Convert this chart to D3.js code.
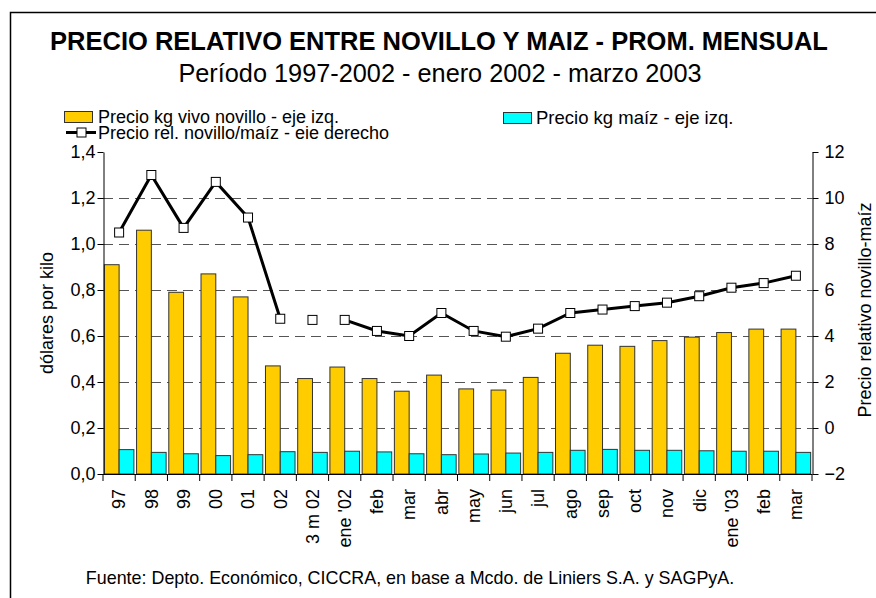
<!DOCTYPE html>
<head>
    <meta charset="utf-8">
    <title>Precio relativo entre novillo y maiz</title>
    <style>
        body { margin: 0; background: #fff; }
        text { font-family: "Liberation Sans", Arial, sans-serif; fill: #000; }
    </style>
</head>
<body>
    <script src="https://d3js.org/d3.v7.min.js"></script>
    <script>

        // categorias del eje x
        var categorias = ["97", "98", "99", "00", "01", "02", "3 m 02", "ene '02", "feb", "mar", "abr",
            "may", "jun", "jul", "ago", "sep", "oct", "nov", "dic", "ene '03", "feb", "mar"];

        // dolares por kilo (eje izq.)
        var novillo = [0.91, 1.06, 0.79, 0.87, 0.77, 0.47, 0.415, 0.465, 0.415, 0.36, 0.43,
            0.37, 0.365, 0.42, 0.525, 0.56, 0.555, 0.58, 0.595, 0.615, 0.63, 0.63];
        var maiz = [0.106, 0.094, 0.088, 0.080, 0.084, 0.097, 0.094, 0.099, 0.096, 0.088, 0.084,
            0.087, 0.091, 0.094, 0.103, 0.107, 0.103, 0.103, 0.101, 0.099, 0.099, 0.094];

        // precio relativo novillo/maiz (eje derecho)
        var relativo = [8.5, 11.0, 8.7, 10.7, 9.15, 4.75, 4.7, 4.7, 4.22, 4.0, 5.0,
            4.22, 3.97, 4.32, 5.0, 5.15, 5.3, 5.45, 5.73, 6.1, 6.3, 6.62];
        // tramos de la linea (los puntos de un mismo tramo van unidos)
        var tramo = [0, 0, 0, 0, 0, 0, 1, 2, 2, 2, 2, 2, 2, 2, 2, 2, 2, 2, 2, 2, 2, 2];

        var ticksIzq = [0, 0.2, 0.4, 0.6, 0.8, 1.0, 1.2, 1.4];
        var ticksDer = [-2, 0, 2, 4, 6, 8, 10, 12];

        var width = 876,
            height = 598;
        var margin = { left: 103, right: 812, top: 152, bottom: 474 };

        var svg = d3.select("body").append("svg")
            .attr("width", width)
            .attr("height", height);

        // marco
        svg.append("rect")
            .attr("x", 10.5).attr("y", 12.5)
            .attr("width", 1000).attr("height", 1000)
            .attr("fill", "none")
            .attr("stroke", "#000")
            .attr("stroke-width", 1.5);

        var x = d3.scaleBand()
            .domain(d3.range(categorias.length))
            .range([margin.left, margin.right]);

        var xSub = d3.scaleBand()
            .domain(["novillo", "maiz"])
            .range([0, x.bandwidth()])
            .paddingInner(0)
            .paddingOuter(0.09);

        var yIzq = d3.scaleLinear().domain([0, 1.4]).range([margin.bottom, margin.top]);
        var yDer = d3.scaleLinear().domain([-2, 12]).range([margin.bottom, margin.top]);

        var coma = function (d) { return d3.format(".1f")(d).replace(".", ","); };

        // lineas de grilla
        svg.append("g")
            .selectAll("line")
            .data(ticksIzq.filter(function (d) { return d > 0 && d < 1.4; }))
            .enter().append("line")
            .attr("x1", margin.left).attr("x2", margin.right)
            .attr("y1", function (d) { return Math.round(yIzq(d)) + 0.5; })
            .attr("y2", function (d) { return Math.round(yIzq(d)) + 0.5; })
            .attr("stroke", "#555")
            .attr("stroke-dasharray", "10,6");

        // barras
        var grupos = svg.append("g")
            .selectAll("g")
            .data(categorias)
            .enter().append("g")
            .attr("transform", function (d, i) { return "translate(" + x(i) + ",0)"; });

        grupos.append("rect")
            .attr("x", xSub("novillo"))
            .attr("width", xSub.bandwidth())
            .attr("y", function (d, i) { return yIzq(novillo[i]); })
            .attr("height", function (d, i) { return yIzq(0) - yIzq(novillo[i]); })
            .attr("fill", "#ffcc00")
            .attr("stroke", "#333")
            .attr("stroke-width", 1);

        grupos.append("rect")
            .attr("x", xSub("maiz"))
            .attr("width", xSub.bandwidth())
            .attr("y", function (d, i) { return yIzq(maiz[i]); })
            .attr("height", function (d, i) { return yIzq(0) - yIzq(maiz[i]); })
            .attr("fill", "#00ffff")
            .attr("stroke", "#333")
            .attr("stroke-width", 1);

        // eje x
        var ejeX = svg.append("g")
            .attr("transform", "translate(0," + margin.bottom + ")")
            .call(d3.axisBottom(x).tickSize(0).tickFormat(function (i) { return categorias[i]; }));
        ejeX.select(".domain").remove();
        ejeX.selectAll("text")
            .attr("transform", "rotate(-90)")
            .attr("x", -15)
            .attr("y", 0)
            .attr("dy", "0.35em")
            .style("text-anchor", "end")
            .style("font-size", "18px")
            .style("font-family", "Liberation Sans, Arial, sans-serif");

        svg.append("g")
            .selectAll("line")
            .data(d3.range(categorias.length + 1))
            .enter().append("line")
            .attr("x1", function (i) { return margin.left + i * x.step(); })
            .attr("x2", function (i) { return margin.left + i * x.step(); })
            .attr("y1", margin.bottom)
            .attr("y2", margin.bottom + 7)
            .attr("stroke", "#000");

        svg.append("line")
            .attr("x1", margin.left).attr("x2", margin.right)
            .attr("y1", margin.bottom + 0.5).attr("y2", margin.bottom + 0.5)
            .attr("stroke", "#000");

        // ejes y
        var ejeIzq = svg.append("g")
            .attr("transform", "translate(" + (margin.left + 0.5) + ",0)")
            .call(d3.axisLeft(yIzq).tickValues(ticksIzq).tickSize(6).tickSizeOuter(0).tickFormat(coma));
        var ejeDer = svg.append("g")
            .attr("transform", "translate(" + (margin.right + 0.5) + ",0)")
            .call(d3.axisRight(yDer).tickValues(ticksDer).tickSize(6).tickSizeOuter(0).tickFormat(d3.format("d")));

        [ejeIzq, ejeDer].forEach(function (e) {
            e.selectAll("text")
                .style("font-size", "18px")
                .style("font-family", "Liberation Sans, Arial, sans-serif")
                .attr("fill", "#000");
            e.select(".domain").attr("stroke", "#000");
            e.selectAll(".tick line").attr("stroke", "#000");
        });
        ejeIzq.selectAll("text").attr("x", -8);
        ejeDer.selectAll("text").attr("x", 12);

        // linea precio relativo
        var linea = d3.line()
            .x(function (d) { return x(d) + x.bandwidth() / 2; })
            .y(function (d) { return yDer(relativo[d]); });

        var tramos = d3.groups(d3.range(relativo.length), function (i) { return tramo[i]; });

        svg.append("g")
            .selectAll("path")
            .data(tramos)
            .enter().append("path")
            .attr("d", function (t) { return linea(t[1]); })
            .attr("fill", "none")
            .attr("stroke", "#000")
            .attr("stroke-width", 3);

        svg.append("g")
            .selectAll("rect")
            .data(relativo)
            .enter().append("rect")
            .attr("x", function (d, i) { return x(i) + x.bandwidth() / 2 - 4.5; })
            .attr("y", function (d) { return yDer(d) - 4.5; })
            .attr("width", 9).attr("height", 9)
            .attr("fill", "#fff")
            .attr("stroke", "#000")
            .attr("stroke-width", 1);

        // titulos
        svg.append("text")
            .attr("x", 439).attr("y", 50)
            .attr("text-anchor", "middle")
            .style("font-size", "25.5px")
            .style("font-weight", "bold")
            .text("PRECIO RELATIVO ENTRE NOVILLO Y MAIZ - PROM. MENSUAL");

        svg.append("text")
            .attr("x", 440).attr("y", 82)
            .attr("text-anchor", "middle")
            .style("font-size", "25.3px")
            .text("Período 1997-2002 - enero 2002 - marzo 2003");

        svg.append("text")
            .attr("transform", "translate(53,313) rotate(-90)")
            .attr("text-anchor", "middle")
            .style("font-size", "18px")
            .text("dólares por kilo");

        svg.append("text")
            .attr("transform", "translate(871,310) rotate(-90)")
            .attr("text-anchor", "middle")
            .style("font-size", "18px")
            .text("Precio relativo novillo-maíz");

        svg.append("text")
            .attr("x", 410).attr("y", 584)
            .attr("text-anchor", "middle")
            .style("font-size", "17.9px")
            .text("Fuente: Depto. Económico, CICCRA, en base a Mcdo. de Liniers S.A. y SAGPyA.");

        // leyenda
        var ley = svg.append("g");
        ley.append("rect")
            .attr("x", 64.5).attr("y", 111.5).attr("width", 28).attr("height", 11)
            .attr("fill", "#ffcc00").attr("stroke", "#333");
        ley.append("text").attr("x", 98).attr("y", 123).style("font-size", "18px")
            .text("Precio kg vivo novillo - eje izq.");

        ley.append("rect")
            .attr("x", 503.5).attr("y", 112.5).attr("width", 28).attr("height", 11)
            .attr("fill", "#00ffff").attr("stroke", "#333");
        ley.append("text").attr("x", 536).attr("y", 124).style("font-size", "18.5px")
            .text("Precio kg maíz - eje izq.");

        ley.append("line")
            .attr("x1", 66).attr("x2", 96).attr("y1", 132.5).attr("y2", 132.5)
            .attr("stroke", "#000").attr("stroke-width", 3);
        ley.append("rect")
            .attr("x", 77).attr("y", 128).attr("width", 9).attr("height", 9)
            .attr("fill", "#fff").attr("stroke", "#000");
        ley.append("text").attr("x", 98).attr("y", 139).style("font-size", "18px")
            .text("Precio rel. novillo/maíz - eie derecho");

    </script>
</body>
